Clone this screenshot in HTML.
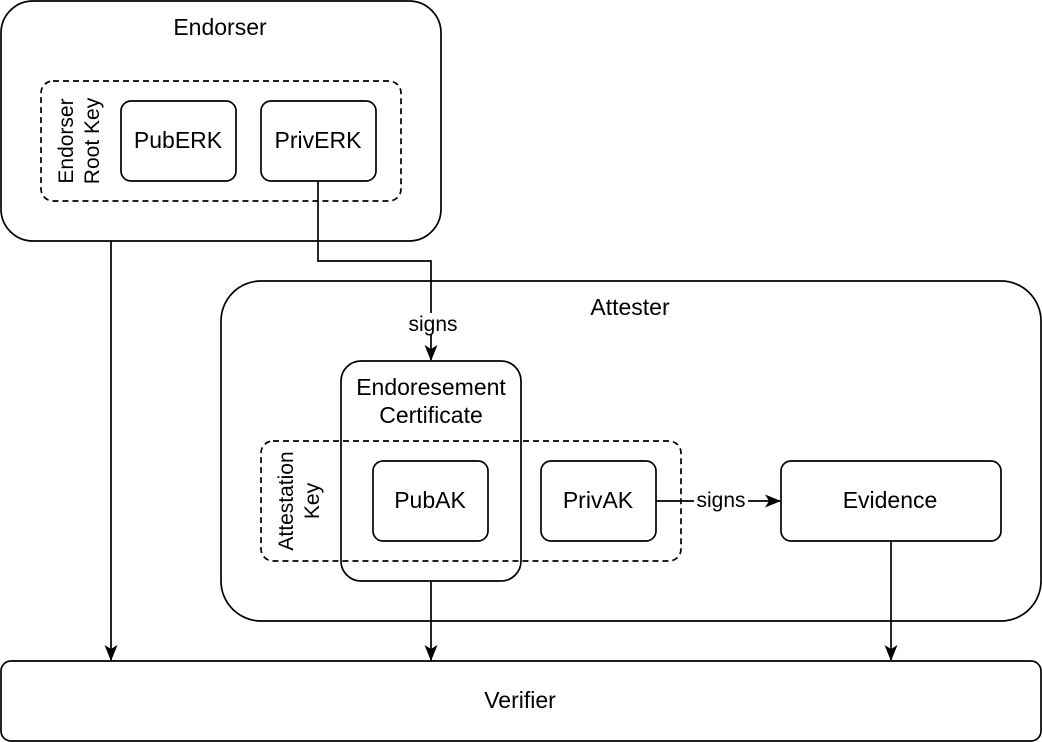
<!DOCTYPE html>
<html><head><meta charset="utf-8"><style>
html,body{margin:0;padding:0;background:#fff;}
svg{display:block;font-family:"Liberation Sans",Arial,sans-serif;}
</style></head><body>
<svg width="1042" height="742" viewBox="0 0 1042 742" xmlns="http://www.w3.org/2000/svg">
<defs><marker id="a" markerWidth="16" markerHeight="16" refX="15" refY="8" orient="auto" markerUnits="userSpaceOnUse"><path d="M0,1.5 L16,8 L0,14.5 L4,8 Z" fill="#000"/></marker></defs>
<g fill="none" stroke="#000" stroke-width="1.7">
<rect x="1" y="1" width="440" height="240" rx="32"/>
<rect x="41" y="81" width="360" height="120" rx="12" stroke-dasharray="6,4"/>
<rect x="121" y="101" width="115" height="80" rx="10"/>
<rect x="261" y="101" width="115" height="80" rx="10"/>
<rect x="221" y="281" width="820" height="340" rx="40"/>
<rect x="341" y="361" width="180" height="220" rx="20"/>
<rect x="261" y="441" width="420" height="120" rx="12" stroke-dasharray="6,4"/>
<rect x="373" y="461" width="115" height="80" rx="10"/>
<rect x="541" y="461" width="115" height="80" rx="10"/>
<rect x="781" y="461" width="220" height="80" rx="10"/>
<rect x="1" y="661" width="1040" height="80" rx="10"/>
<path d="M111 241 V660" marker-end="url(#a)"/>
<path d="M318 181 V261 H431 V360" marker-end="url(#a)"/>
<path d="M431 581 V660" marker-end="url(#a)"/>
<path d="M891 541 V660" marker-end="url(#a)"/>
<path d="M656 501 H780" marker-end="url(#a)"/>
</g>
<g font-size="23" fill="#000" text-anchor="middle">
<text x="220" y="35">Endorser</text>
<text x="178" y="148">PubERK</text>
<text x="318" y="148">PrivERK</text>
<text x="630" y="315">Attester</text>
<text x="431" y="395">Endoresement</text>
<text x="431" y="423">Certificate</text>
<text x="430" y="508">PubAK</text>
<text x="598" y="508">PrivAK</text>
<text x="890" y="508">Evidence</text>
<text x="520" y="708">Verifier</text>
<text font-size="21" transform="translate(73,141) rotate(-90)">Endorser</text>
<text font-size="21" transform="translate(99,141) rotate(-90)">Root Key</text>
<text font-size="21" transform="translate(293,501) rotate(-90)">Attestation</text>
<text font-size="21" transform="translate(319,501) rotate(-90)">Key</text>
</g>
<rect x="404" y="313" width="56" height="22" fill="#fff"/>
<rect x="694" y="489" width="54" height="22" fill="#fff"/>
<g font-size="21" fill="#000" text-anchor="middle">
<text x="433" y="331">signs</text>
<text x="721" y="507">signs</text>
</g>
</svg>
</body></html>
